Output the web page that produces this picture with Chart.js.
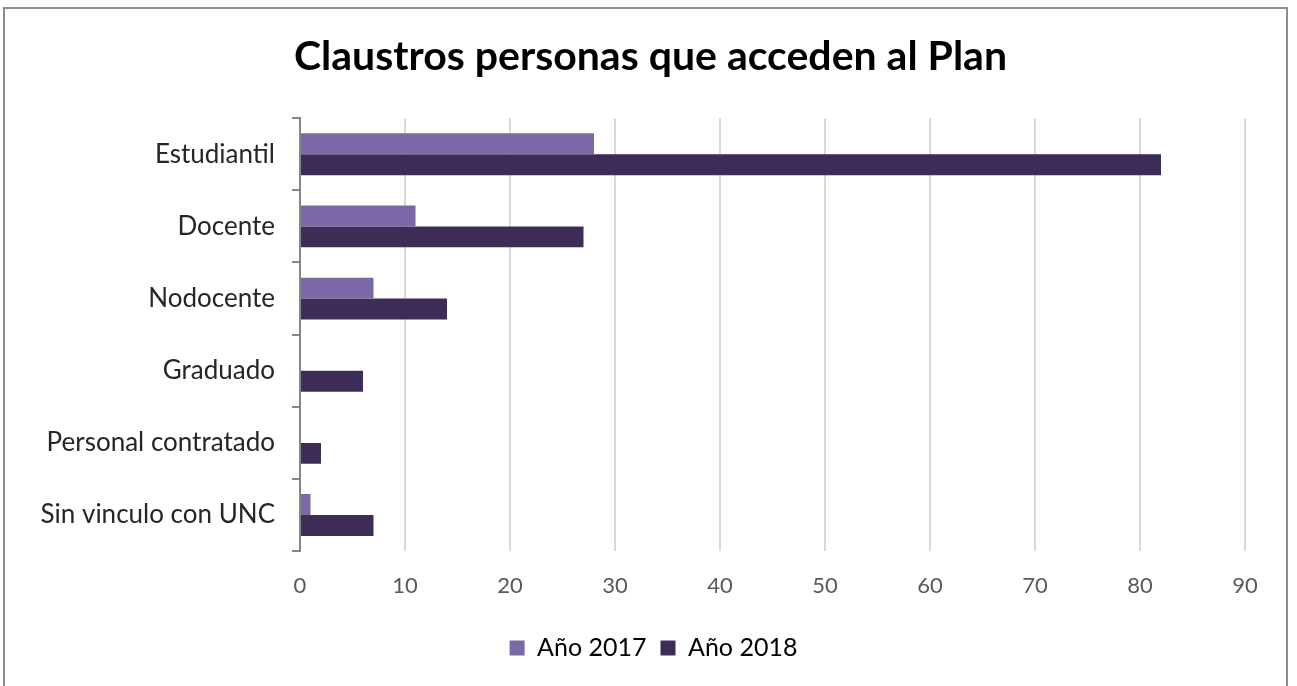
<!DOCTYPE html>
<html>
<head>
<meta charset="utf-8">
<script src="https://cdn.jsdelivr.net/npm/chart.js@4/dist/chart.umd.min.js"></script>
<style>
  html, body { margin: 0; padding: 0; background: #fff; }
  #wrap { position: relative; width: 1297px; height: 686px; overflow: hidden; }
  #frame { position: absolute; left: 3px; top: 7px; width: 1285px; height: 700px; border: 2px solid #8c8c8c; box-sizing: border-box; pointer-events: none; }
  canvas { position: absolute; left: 0; top: 0; }
</style>
</head>
<body>
<div id="wrap">
  <canvas id="chart" width="1297" height="686"></canvas>
  <div id="frame"></div>
</div>
<script>
// ── DATA ─────────────────────────────────────────────
const categories = ['Estudiantil', 'Docente', 'Nodocente', 'Graduado', 'Personal contratado', 'Sin vinculo con UNC'];
const values2017 = [28, 11, 7, 0, 0, 1];
const values2018 = [82, 27, 14, 6, 2, 7];
const seriesNames = ['Año 2017', 'Año 2018'];
const xMax = 90;
const xStep = 10;

const FONT = "Lato, 'Open Sans', sans-serif";

// nudge title + legend to the right, like the original (centred on the page, not the axes box)
const boxShift = {
    id: 'boxShift',
    afterLayout(chart) {
        const lg = chart.legend;
        if (lg) { lg.left += 31; lg.right += 31; }
        const tb = chart.titleBlock;
        if (tb) { tb.left += 28; tb.right += 28; }
    }
};

new Chart(document.getElementById('chart'), {
    type: 'bar',
    data: {
        labels: categories,
        datasets: [
            {
                label: seriesNames[0],
                data: values2017,
                backgroundColor: '#7b68a6',
                borderWidth: 0,
                categoryPercentage: 0.58,
                barPercentage: 1
            },
            {
                label: seriesNames[1],
                data: values2018,
                backgroundColor: '#3c2c57',
                borderWidth: 0,
                categoryPercentage: 0.58,
                barPercentage: 1
            }
        ]
    },
    plugins: [boxShift],
    options: {
        indexAxis: 'y',
        responsive: false,
        animation: false,
        layout: { padding: { top: 0, left: 0, right: 52, bottom: 15.5 } },
        plugins: {
            title: {
                display: true,
                text: 'Claustros personas que acceden al Plan',
                color: '#000',
                font: { family: FONT, size: 41, weight: 'bold' },
                padding: { top: 32, bottom: 37 }
            },
            legend: {
                position: 'bottom',
                labels: {
                    color: '#000',
                    font: { family: FONT, size: 25 },
                    boxWidth: 15,
                    boxHeight: 15,
                    padding: 14
                }
            },
            tooltip: { enabled: false }
        },
        scales: {
            x: {
                min: 0,
                max: xMax,
                ticks: {
                    stepSize: xStep,
                    color: '#595959',
                    font: { family: FONT, size: 22 },
                    padding: 22
                },
                grid: { color: '#d9d9d9', lineWidth: 2, drawTicks: false },
                border: { display: false }
            },
            y: {
                afterFit: (scale) => { scale.width = 300; },
                ticks: {
                    color: '#262626',
                    font: { family: FONT, size: 26 },
                    padding: 17
                },
                grid: {
                    offset: true,
                    drawOnChartArea: false,
                    color: '#868686',
                    lineWidth: 2,
                    tickLength: 8
                },
                border: { color: '#868686', width: 2 }
            }
        }
    }
});
</script>
</body>
</html>
